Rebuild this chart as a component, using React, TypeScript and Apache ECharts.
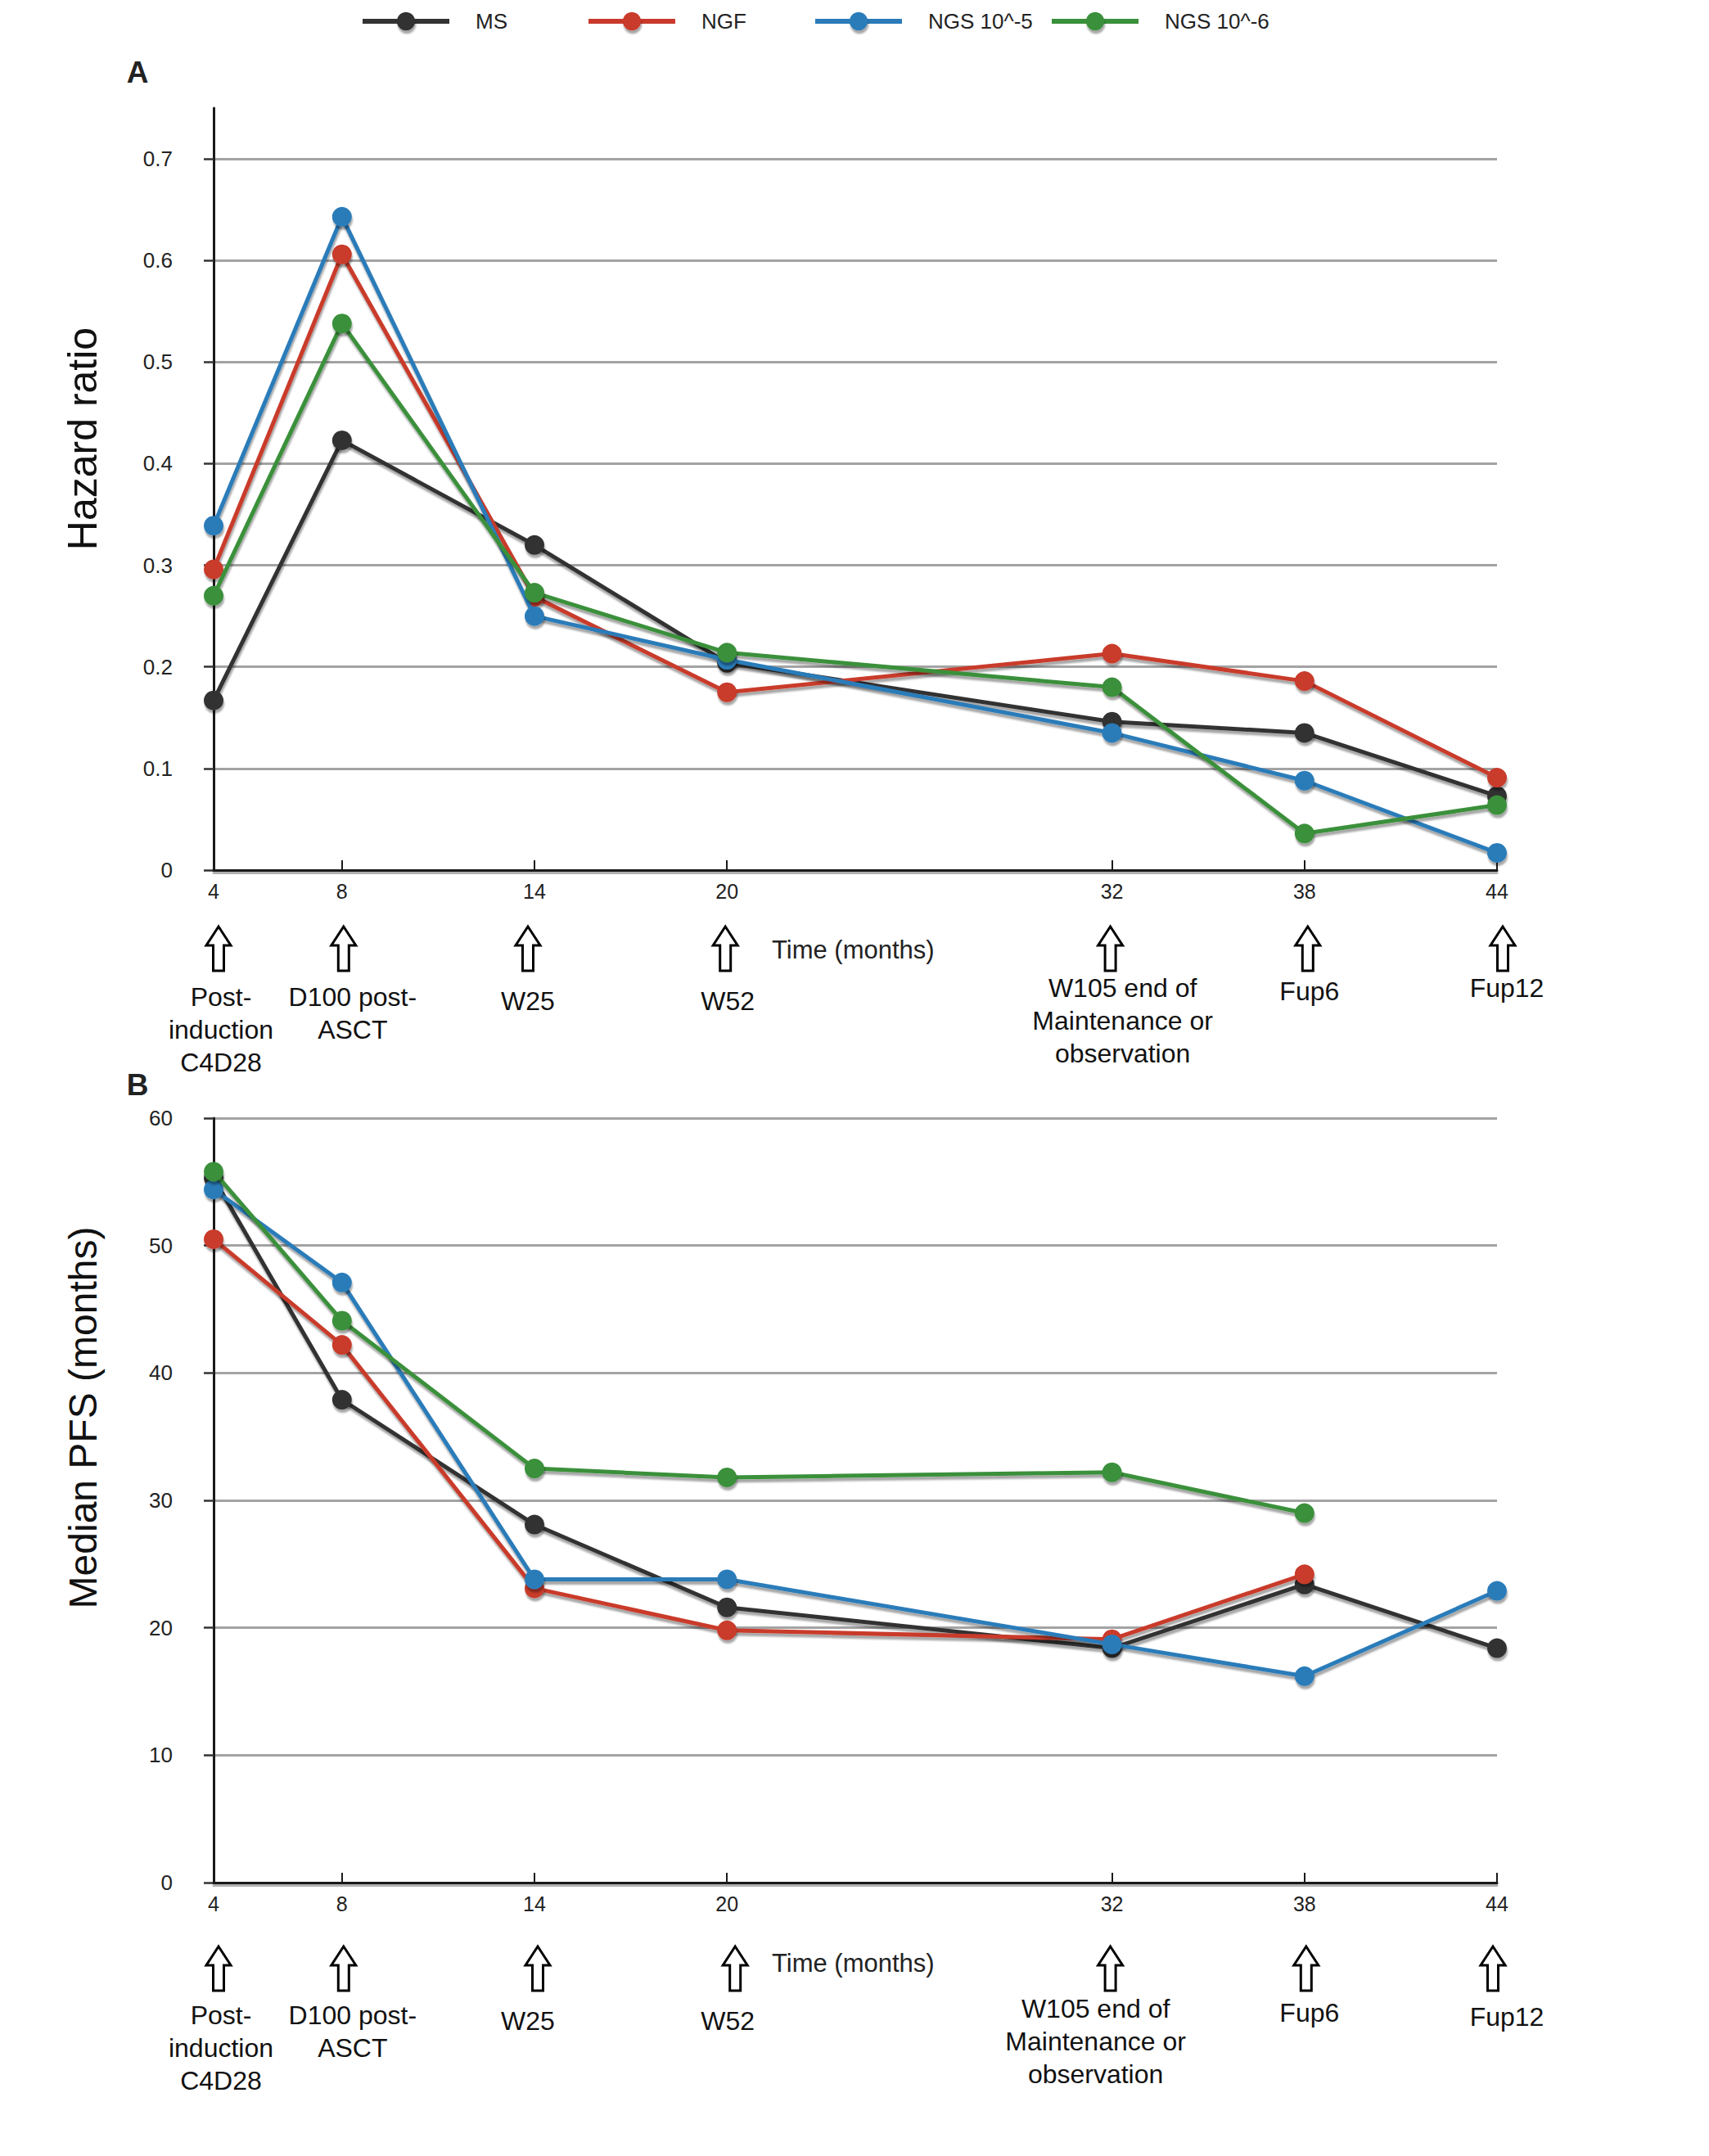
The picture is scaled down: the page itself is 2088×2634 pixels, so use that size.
import React, { useEffect, useRef } from "react";
import * as echarts from "echarts";

const xs = [4, 8, 14, 20, 32, 38, 44];
const seriesNames = ["MS", "NGF", "NGS 10^-5", "NGS 10^-6"];
const hrMS = [0.167, 0.423, 0.32, 0.204, 0.146, 0.135, 0.073];
const hrNGF = [0.296, 0.606, 0.269, 0.175, 0.213, 0.186, 0.091];
const hrNGS5 = [0.339, 0.643, 0.25, 0.207, 0.135, 0.088, 0.017];
const hrNGS6 = [0.27, 0.538, 0.273, 0.214, 0.18, 0.036, 0.064];
const pfsMS = [55.3, 37.9, 28.1, 21.6, 18.4, 23.4, 18.4];
const pfsNGF = [50.5, 42.2, 23.1, 19.8, 19.1, 24.2, null];
const pfsNGS5 = [54.4, 47.1, 23.8, 23.8, 18.7, 16.2, 22.9];
const pfsNGS6 = [55.8, 44.1, 32.5, 31.8, 32.2, 29.0, null];
const hrTicks = [0, 0.1, 0.2, 0.3, 0.4, 0.5, 0.6, 0.7];
const pfsTicks = [0, 10, 20, 30, 40, 50, 60];
const milestones = [
  "Post-\ninduction\nC4D28",
  "D100 post-\nASCT",
  "W25",
  "W52",
  "W105 end of\nMaintenance or\nobservation",
  "Fup6",
  "Fup12",
];

const colors = ["#333333", "#c93a2c", "#2b7bb9", "#3a903a"];
const FONT = "Liberation Sans, Arial, Helvetica, sans-serif";

// layout (pixels)
const legendLefts = [435, 711, 988, 1277];
const arrowDxA = [6, 2, -8, -2, -2, 4, 7];
const arrowDxB = [6, 2, 4, 10, -2, 2, -5];
const labelDxA = [9, 13, -8, 1, 13, 6, 12];
const labelDxB = [9, 13, -8, 1, -20, 6, 12];
const labelDyA = [0, 0, 5, 5, -11, -7, -11];
const labelDyB = [0, 0, 7, 7, -8, -3, 2];

function pairs(vals: (number | null)[]) {
  const out: number[][] = [];
  vals.forEach((v, i) => {
    if (v !== null) out.push([xs[i], v]);
  });
  return out;
}

export default function App() {
  const ref = useRef<HTMLDivElement>(null);
  useEffect(() => {
    if (!ref.current) return;
    const chart = echarts.init(ref.current, null, { renderer: "svg" });

    const gridA = { left: 261, top: 132, width: 1568, height: 931 };
    const gridB = { left: 261, top: 1366, width: 1568, height: 934 };

    const xAxisMain = (gi: number) => ({
      type: "value",
      gridIndex: gi,
      position: "bottom",
      min: 4,
      max: 44,
      z: 5,
      axisLine: {
        show: true,
        onZero: false,
        lineStyle: { color: "#1a1a1a", width: 3 },
      },
      axisTick: {
        show: true,
        inside: true,
        length: 12,
        customValues: xs,
        lineStyle: { color: "#1a1a1a", width: 2 },
      },
      axisLabel: {
        customValues: xs,
        margin: 13,
        fontSize: 25,
        color: "#222",
        fontFamily: FONT,
      },
      splitLine: { show: false },
    });

    // grey under-line (shadow of the x axis)
    const xAxisShadow = (gi: number) => ({
      type: "value",
      gridIndex: gi,
      position: "bottom",
      min: 4,
      max: 44,
      offset: 3,
      z: 4,
      axisLine: {
        show: true,
        onZero: false,
        lineStyle: { color: "#b0b0b0", width: 3 },
      },
      axisTick: { show: false },
      axisLabel: { show: false },
      splitLine: { show: false },
    });

    const yAxisBase = (gi: number, max: number, ticks: number[]) => ({
      type: "value",
      gridIndex: gi,
      min: 0,
      max,
      axisLine: {
        show: true,
        lineStyle: { color: "#1a1a1a", width: 3 },
      },
      axisTick: {
        show: true,
        length: 12,
        customValues: ticks,
        lineStyle: { color: "#333", width: 2.5 },
      },
      axisLabel: {
        customValues: ticks,
        margin: 50,
        fontSize: 26,
        color: "#222",
        fontFamily: FONT,
        formatter: (v: number) => (v === 0 ? "0" : String(v)),
      },
      splitLine: {
        show: true,
        showMinLine: false,
        lineStyle: { color: "#a3a3a3", width: 3 },
      },
    });

    const shadow = {
      shadowColor: "rgba(0,0,0,0.35)",
      shadowOffsetX: 1,
      shadowOffsetY: 4,
      shadowBlur: 2,
    };

    const mkSeries = (name: string, idx: number, gi: number, vals: (number | null)[]) => ({
      name,
      type: "line",
      xAxisIndex: gi * 2,
      yAxisIndex: gi,
      data: pairs(vals),
      symbol: "circle",
      symbolSize: 24,
      z: 3 + idx,
      lineStyle: { color: colors[idx], width: 5, ...shadow },
      itemStyle: { color: colors[idx], ...shadow },
      emphasis: { disabled: true },
    });

    const hrAll = [hrMS, hrNGF, hrNGS5, hrNGS6];
    const pfsAll = [pfsMS, pfsNGF, pfsNGS5, pfsNGS6];
    const series: any[] = [];
    seriesNames.forEach((n, i) => series.push(mkSeries(n, i, 0, hrAll[i])));
    seriesNames.forEach((n, i) => series.push(mkSeries(n, i, 1, pfsAll[i])));

    const legends = seriesNames.map((n, i) => ({
      data: [n],
      left: legendLefts[i],
      top: 8,
      itemWidth: 106,
      itemHeight: 28,
      selectedMode: false,
      lineStyle: { width: 6 },
      itemStyle: { ...shadow },
      textStyle: {
        fontSize: 26,
        color: "#222",
        fontFamily: FONT,
        padding: [0, 0, 0, 27],
      },
    }));

    chart.setOption({
      animation: false,
      backgroundColor: "#ffffff",
      textStyle: { fontFamily: FONT },
      legend: legends,
      grid: [gridA, gridB],
      xAxis: [xAxisMain(0), xAxisShadow(0), xAxisMain(1), xAxisShadow(1)],
      yAxis: [yAxisBase(0, 0.75, hrTicks), yAxisBase(1, 60, pfsTicks)],
      series,
    });

    const arrowPts = [
      [0, -27],
      [15, -4],
      [6.5, -4],
      [6.5, 27],
      [-6.5, 27],
      [-6.5, -4],
      [-15, -4],
    ];

    const graphics: any[] = [];
    const addPanel = (
      xi: number,
      arrowY: number,
      labelY: number,
      timeY: number,
      adx: number[],
      ldx: number[],
      ldy: number[]
    ) => {
      xs.forEach((v, i) => {
        const px = chart.convertToPixel({ xAxisIndex: xi }, v) as number;
        graphics.push({
          type: "polygon",
          x: px + adx[i],
          y: arrowY,
          shape: { points: arrowPts },
          style: { fill: "#ffffff", stroke: "#000000", lineWidth: 3 },
        });
        graphics.push({
          type: "text",
          x: px + ldx[i],
          y: labelY + ldy[i],
          style: {
            text: milestones[i],
            fontSize: 32,
            lineHeight: 40,
            fontFamily: FONT,
            fill: "#111",
            align: "center",
            verticalAlign: "top",
          },
        });
      });
      graphics.push({
        type: "text",
        x: 943,
        y: timeY,
        style: {
          text: "Time (months)",
          fontSize: 31,
          fontFamily: FONT,
          fill: "#222",
          align: "left",
          verticalAlign: "middle",
        },
      });
    };
    addPanel(0, 1159, 1198, 1160, arrowDxA, labelDxA, labelDyA);
    addPanel(2, 2405, 2442, 2398, arrowDxB, labelDxB, labelDyB);

    graphics.push(
      {
        type: "text",
        x: 101,
        y: 536,
        rotation: Math.PI / 2,
        style: {
          text: "Hazard ratio",
          fontSize: 50,
          fontFamily: FONT,
          fill: "#111",
          align: "center",
          verticalAlign: "middle",
        },
      },
      {
        type: "text",
        x: 101,
        y: 1732,
        rotation: Math.PI / 2,
        style: {
          text: "Median PFS (months)",
          fontSize: 48,
          fontFamily: FONT,
          fill: "#111",
          align: "center",
          verticalAlign: "middle",
        },
      },
      {
        type: "text",
        x: 168,
        y: 88,
        style: {
          text: "A",
          fontSize: 37,
          fontWeight: "bold",
          fontFamily: FONT,
          fill: "#222",
          align: "center",
          verticalAlign: "middle",
        },
      },
      {
        type: "text",
        x: 168,
        y: 1325,
        style: {
          text: "B",
          fontSize: 37,
          fontWeight: "bold",
          fontFamily: FONT,
          fill: "#222",
          align: "center",
          verticalAlign: "middle",
        },
      }
    );

    chart.setOption({ graphic: graphics });

    return () => chart.dispose();
  }, []);

  return (
    <div
      ref={ref}
      style={{ position: "absolute", left: 0, top: 0, width: 2088, height: 2634 }}
    />
  );
}
